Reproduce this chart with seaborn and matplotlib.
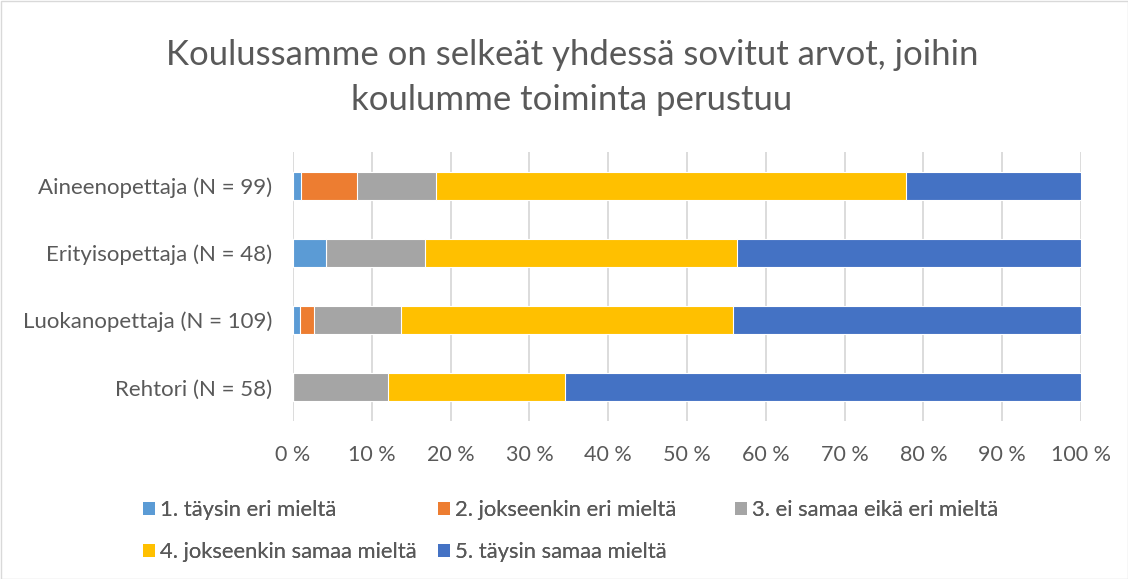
import numpy as np
import pandas as pd
import matplotlib.pyplot as plt
import seaborn as sns

# === Data (prosentit, luettu kuvasta) ===
groups = ["Aineenopettaja (N = 99)", "Erityisopettaja (N = 48)",
          "Luokanopettaja (N = 109)", "Rehtori (N = 58)"]
answers = ["1. täysin eri mieltä", "2. jokseenkin eri mieltä",
           "3. ei samaa eikä eri mieltä", "4. jokseenkin samaa mieltä",
           "5. täysin samaa mieltä"]
p1 = [1.0, 4.2, 0.9, 0.0]
p2 = [7.1, 0.0, 1.8, 0.0]
p3 = [10.1, 12.5, 11.0, 12.1]
p4 = [59.6, 39.6, 42.2, 22.4]
p5 = [22.2, 43.7, 44.1, 65.5]
colors = ["#5B9BD5", "#ED7D31", "#A5A5A5", "#FFC000", "#4472C4"]

sns.set_style("white")
plt.rcParams["font.family"] = ["Lato", "DejaVu Sans"]
text_col = "#595959"

df = pd.DataFrame({"group": groups, answers[0]: p1, answers[1]: p2,
                   answers[2]: p3, answers[3]: p4, answers[4]: p5})
cum = df[answers].cumsum(axis=1)

W, H = 1128, 579
fig = plt.figure(figsize=(W / 100, H / 100), dpi=100)
ax = fig.add_axes([293 / W, 1 - 421 / H, (1081 - 293) / W, (421 - 152) / H])

# pinotut palkit: piirretään kumulatiiviset summat suurimmasta pienimpään
for ans, col in reversed(list(zip(answers, colors))):
    sns.barplot(x=cum[ans], y=df["group"], orient="h", color=col, ax=ax,
                width=0.42, edgecolor="white", linewidth=0.8, label=ans,
                saturation=1)

ax.set_xlim(0, 100)
ax.set_xticks(np.arange(0, 101, 10))
ax.set_xticklabels([f"{v} %" for v in range(0, 101, 10)])
ax.grid(axis="x", color="#D9D9D9", linewidth=1.3)
ax.set_axisbelow(True)
for s in ax.spines.values():
    s.set_visible(False)
ax.tick_params(axis="y", length=0, labelsize=16, colors=text_col, pad=15)
ax.tick_params(axis="x", length=0, labelsize=15.5, colors=text_col, pad=17)
ax.set_xlabel("")
ax.set_ylabel("")

fig.text(572 / W, 1 - 55 / H, "Koulussamme on selkeät yhdessä sovitut arvot, joihin",
         ha="center", va="center", fontsize=25, color=text_col)
fig.text(572 / W, 1 - 100 / H, "koulumme toiminta perustuu",
         ha="center", va="center", fontsize=25, color=text_col)

# legenda kolmena sarakkeena, rivijärjestyksessä
h, l = ax.get_legend_handles_labels()
hd = dict(zip(l, h))
if ax.get_legend():
    ax.get_legend().remove()
cols = [([answers[0], answers[3]], 143), ([answers[1], answers[4]], 438),
        ([answers[2]], 735)]
for labs, x0 in cols:
    leg = fig.legend([hd[o] for o in labs], labs, loc="upper left",
                     bbox_to_anchor=(x0 / W, 1 - 500 / H), frameon=False,
                     fontsize=15.8, labelcolor=text_col, handlelength=0.55,
                     handleheight=0.55, handletextpad=0.22, labelspacing=1.0,
                     borderpad=0, borderaxespad=0)
    for p in leg.get_patches():
        p.set_edgecolor("none")
    fig.add_artist(leg)

fig.patches.append(plt.Rectangle((0.5 / W, 0.5 / H), 1 - 1 / W, 1 - 1 / H,
                                 transform=fig.transFigure, fill=False,
                                 edgecolor="#D9D9D9", linewidth=1))
fig.savefig("out.png", dpi=100)
